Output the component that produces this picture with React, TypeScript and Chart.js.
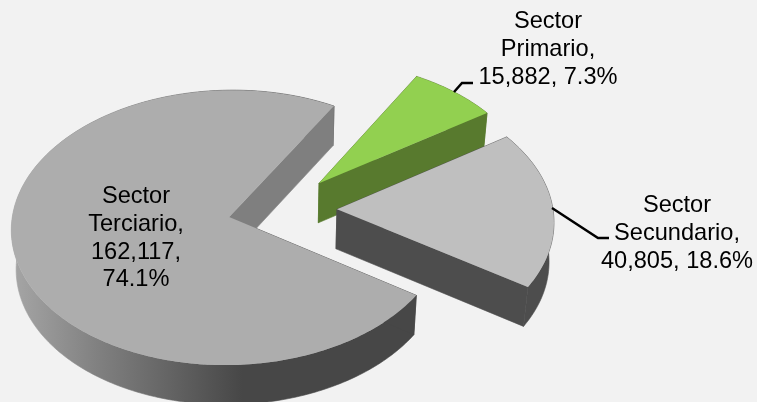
import React, { useEffect, useRef } from "react";
import { Chart, registerables } from "chart.js";

Chart.register(...registerables);

const categories = ["Sector Primario", "Sector Secundario", "Sector Terciario"];
const values = [15882, 40805, 162117];
const faceColors = ["#92d050", "#bfbfbf", "#adadad"];
const explosion = [58, 57, 52];
const labelLines = [
  ["Sector", "Primario,", "15,882, 7.3%"],
  ["Sector", "Secundario,", "40,805, 18.6%"],
  ["Sector", "Terciario,", "162,117,", "74.1%"],
];

const FONT = '23.6px "Liberation Sans", Arial, sans-serif';
const LINE_H = 27.8;
const SQUASH = 135.5 / 216;
const TILT = 0.0764;
const DEPTH = 39.5;
const BOTTOM_SCALE = 0.982;

const labelAnchors = [
  { x: 548, y: 28 },
  { x: 677, y: 212 },
  { x: 136, y: 203 },
];
const leaders = [
  [[454, 92], [462, 83], [473, 83]],
  [[552, 208], [598, 238], [609, 238]],
];

const piePlugin = {
  id: "tiltedPie",
  beforeDatasetDraw(chart: any, args: any) {
    const ctx: CanvasRenderingContext2D = chart.ctx;
    const arcs = chart.getDatasetMeta(args.index).data;
    const project = (arc: any, px: number, py: number, level: number) => {
      const R = arc.outerRadius;
      const w = 1 - (TILT * py) / R;
      const X = px / w;
      const Y = (py * SQUASH) / w;
      return level === 0
        ? [arc.x + X, arc.y + Y]
        : [arc.x + X * BOTTOM_SCALE, arc.y + Y + DEPTH];
    };
    const wallFill = (i: number) => {
      if (i === 0) return "#587a2e";
      if (i === 1) return "#4d4d4d";
      const g = ctx.createLinearGradient(12, 0, 300, 0);
      g.addColorStop(0, "#a6a6a6");
      g.addColorStop(0.3, "#808080");
      g.addColorStop(0.8, "#474747");
      g.addColorStop(1, "#474747");
      return g;
    };
    const polygon = (pts: number[][], fill: any, seal = false) => {
      ctx.beginPath();
      pts.forEach((p, k) => (k ? ctx.lineTo(p[0], p[1]) : ctx.moveTo(p[0], p[1])));
      ctx.closePath();
      ctx.fillStyle = fill;
      ctx.fill();
      if (seal) {
        ctx.strokeStyle = fill;
        ctx.lineWidth = 0.6;
        ctx.stroke();
      }
    };
    arcs.forEach((arc: any, i: number) => {
      const mid = (arc.startAngle + arc.endAngle) / 2;
      const off = arc.options.offset;
      const ox = Math.cos(mid) * off;
      const oy = Math.sin(mid) * off;
      const n = Math.ceil(((arc.endAngle - arc.startAngle) * 180) / Math.PI);
      const rim: number[][] = [];
      for (let k = 0; k <= n; k++) {
        const a = arc.startAngle + ((arc.endAngle - arc.startAngle) * k) / n;
        rim.push([ox + arc.outerRadius * Math.cos(a), oy + arc.outerRadius * Math.sin(a)]);
      }
      const top = (p: number[]) => project(arc, p[0], p[1], 0);
      const bot = (p: number[]) => project(arc, p[0], p[1], 1);
      const tip = [ox, oy];
      const first = rim[0];
      const last = rim[rim.length - 1];
      polygon([...rim.map(top), ...rim.slice().reverse().map(bot)], wallFill(i), true);
      const side = i === 2 ? "#7f7f7f" : wallFill(i);
      polygon([top(tip), top(first), bot(first), bot(tip)], i === 2 ? "#474747" : side, true);
      polygon([top(tip), top(last), bot(last), bot(tip)], side, true);
      polygon([top(tip), ...rim.map(top)], arc.options.backgroundColor);
    });
    return false;
  },
  afterDraw(chart: any) {
    const ctx: CanvasRenderingContext2D = chart.ctx;
    ctx.save();
    ctx.strokeStyle = "#000000";
    ctx.lineWidth = 2.5;
    leaders.forEach((l) => {
      ctx.beginPath();
      l.forEach((p, k) => (k ? ctx.lineTo(p[0], p[1]) : ctx.moveTo(p[0], p[1])));
      ctx.stroke();
    });
    ctx.fillStyle = "#000000";
    ctx.font = FONT;
    ctx.textAlign = "center";
    ctx.textBaseline = "alphabetic";
    labelLines.forEach((lines, i) => {
      lines.forEach((t, k) => ctx.fillText(t, labelAnchors[i].x, labelAnchors[i].y + k * LINE_H));
    });
    ctx.restore();
  },
};

export default function App() {
  const ref = useRef<HTMLCanvasElement>(null);
  useEffect(() => {
    const chart = new Chart(ref.current as HTMLCanvasElement, {
      type: "pie",
      data: {
        labels: categories,
        datasets: [
          {
            data: values,
            backgroundColor: faceColors,
            offset: explosion,
            borderWidth: 0,
            clip: false,
          } as any,
        ],
      },
      options: {
        responsive: false,
        animation: false,
        events: [],
        rotation: 30,
        radius: 216,
        layout: { padding: { right: 197, top: 17 } },
        plugins: { legend: { display: false }, tooltip: { enabled: false } },
      } as any,
      plugins: [piePlugin as any],
    });
    return () => chart.destroy();
  }, []);
  return (
    <div style={{ position: "absolute", left: 0, top: 0, width: 757, height: 402, background: "#f2f2f2", overflow: "hidden" }}>
      <canvas ref={ref} width={757} height={402} style={{ display: "block" }} />
    </div>
  );
}
